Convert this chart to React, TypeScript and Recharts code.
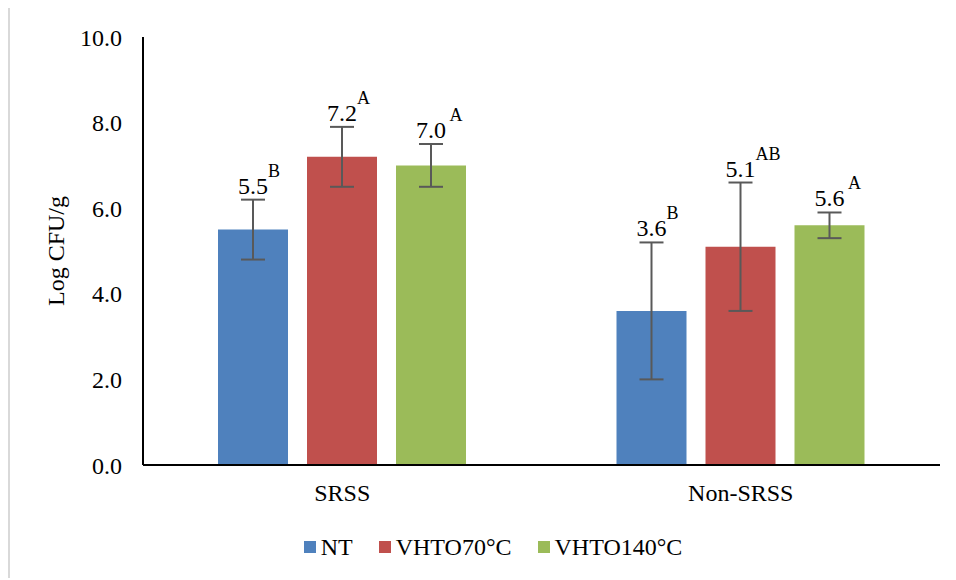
import { BarChart, Bar, XAxis, YAxis, ErrorBar, LabelList, Legend } from 'recharts';

const categories = ['SRSS', 'Non-SRSS'];

const ntMeans = [5.5, 3.6];
const ntErr = [0.7, 1.6];
const ntLetters = ['B', 'B'];

const vhto70Means = [7.2, 5.1];
const vhto70Err = [0.7, 1.5];
const vhto70Letters = ['A', 'AB'];

const vhto140Means = [7.0, 5.6];
const vhto140Err = [0.5, 0.3];
const vhto140Letters = [' A', ' A'];

const yTicks = [0, 2, 4, 6, 8, 10];

const SERIES = [
  { key: 'nt', name: 'NT', color: '#4F81BD', err: ntErr, letters: ntLetters },
  { key: 'vhto70', name: 'VHTO70°C', color: '#C0504D', err: vhto70Err, letters: vhto70Letters },
  { key: 'vhto140', name: 'VHTO140°C', color: '#9BBB59', err: vhto140Err, letters: vhto140Letters },
];

const FONT = '"Liberation Serif", "Times New Roman", serif';

const data = categories.map((c, i) => ({
  name: c,
  nt: ntMeans[i],
  ntErr: ntErr[i],
  vhto70: vhto70Means[i],
  vhto70Err: vhto70Err[i],
  vhto140: vhto140Means[i],
  vhto140Err: vhto140Err[i],
}));

// value label sits just above the error bar cap, letter as superscript
function makeLabel(errs: number[], letters: string[]) {
  return (props: any) => {
    const { x, y, width, height, value, index } = props;
    const ppu = Number(height) / Number(value);
    const top = Number(y) - errs[index] * ppu;
    const cx = Number(x) + Number(width) / 2;
    const base = top - 6;
    return (
      <g>
        <text x={cx} y={base} textAnchor="middle" fontSize={24} fontFamily={FONT} fill="#000">
          {Number(value).toFixed(1)}
        </text>
        <text
          x={cx + 15}
          y={base - 17}
          textAnchor="start"
          fontSize={18}
          fontFamily={FONT}
          fill="#000"
          style={{ whiteSpace: 'pre' }}
        >
          {letters[index]}
        </text>
      </g>
    );
  };
}

function LegendBox() {
  return (
    <div
      style={{
        display: 'flex',
        justifyContent: 'center',
        alignItems: 'center',
        height: 30,
        fontFamily: FONT,
        fontSize: 24,
        color: '#000',
      }}
    >
      {SERIES.map((s, i) => (
        <div key={s.key} style={{ display: 'flex', alignItems: 'center', marginLeft: i === 0 ? 0 : 26 }}>
          <span style={{ width: 12, height: 12, background: s.color, display: 'inline-block', marginRight: 5 }} />
          <span>{s.name}</span>
        </div>
      ))}
    </div>
  );
}

export default function App() {
  return (
    <div style={{ position: 'relative', width: 948, height: 572, overflow: 'hidden', marginTop: -2 }}>
      <div
        style={{
          position: 'absolute',
          left: 0,
          top: 0,
          width: 980,
          height: 600,
          border: '2px solid #d9d9d9',
          boxSizing: 'border-box',
        }}
      />
      <div style={{ position: 'absolute', left: 0, top: 0 }}>
        <BarChart
          width={970}
          height={572}
          data={data}
          margin={{ top: 31, right: 38, left: 0, bottom: 16 }}
          barSize={70}
          barGap={19}
        >
          <XAxis
            dataKey="name"
            height={67}
            tickLine={false}
            axisLine={{ stroke: '#000', strokeWidth: 2 }}
            tickMargin={13}
            tick={{ fill: '#000', fontSize: 24, fontFamily: FONT }}
          />
          <YAxis
            width={135}
            domain={[0, 10]}
            ticks={yTicks}
            interval={0}
            tickFormatter={(v: number) => v.toFixed(1)}
            tickLine={false}
            axisLine={{ stroke: '#000', strokeWidth: 2 }}
            tickMargin={15}
            tick={{ fill: '#000', fontSize: 24, fontFamily: FONT }}
            label={{
              content: (p: any) => {
                const vb = p.viewBox || {};
                const cy = Number(vb.y) + Number(vb.height) / 2;
                return (
                  <text
                    x={56}
                    y={cy}
                    transform={`rotate(-90, 56, ${cy})`}
                    textAnchor="middle"
                    fontSize={24}
                    fontFamily={FONT}
                    fill="#000"
                  >
                    Log CFU/g
                  </text>
                );
              },
            }}
          />
          <Legend
            verticalAlign="bottom"
            height={30}
            content={() => <LegendBox />}
            wrapperStyle={{ left: 0, width: 970 }}
          />
          {SERIES.map((s) => (
            <Bar key={s.key} dataKey={s.key} name={s.name} fill={s.color} isAnimationActive={false}>
              <ErrorBar dataKey={`${s.key}Err`} width={12} strokeWidth={2} stroke="#595959" direction="y" />
              <LabelList dataKey={s.key} content={makeLabel(s.err, s.letters)} />
            </Bar>
          ))}
        </BarChart>
      </div>
    </div>
  );
}
